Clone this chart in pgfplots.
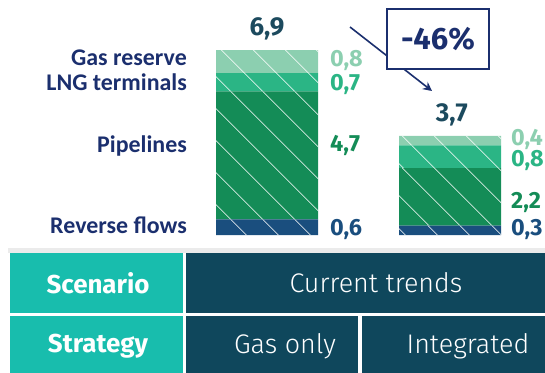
\documentclass[border=0pt]{standalone}
\usepackage{pgfplots}
\pgfplotsset{compat=1.18}
\usetikzlibrary{patterns.meta,arrows.meta}
\usepackage{fontspec}
\setmainfont{Fira Sans}
\newfontfamily\lab{Carlito}
\newfontfamily\light{Fira Sans}[UprightFont=* Light]
\definecolor{cgas}{HTML}{8CCFB0}
\definecolor{clng}{HTML}{2BB585}
\definecolor{cpipe}{HTML}{148C57}
\definecolor{crev}{HTML}{1A4E7E}
\definecolor{ctot}{HTML}{1C4A5E}
\definecolor{cnavy}{HTML}{1B2F6E}
\definecolor{tteal}{HTML}{18BDAD}
\definecolor{tnavy}{HTML}{0F475C}
\tikzset{hatch/.style={draw=none,fill=#1,postaction={pattern={Lines[angle=-45,distance=22.6bp,line width=0.7pt]},pattern color=white}},
  llab/.style={cnavy,anchor=base east,inner sep=0pt,overlay,font=\lab\fontsize{24}{26}\selectfont\bfseries},
  vlab/.style={anchor=base west,inner sep=0pt,overlay,font=\fontsize{23.5}{26}\selectfont\bfseries}}
\begin{document}
\begin{tikzpicture}[x=1bp,y=1bp]
\useasboundingbox (0,0) rectangle (545,372);
\clip (0,0) rectangle (545,372);
% table
\fill[black!8] (8,119) rectangle (550,124);
\fill[tteal] (10,59) rectangle (183,119);
\fill[tnavy] (186,59) rectangle (550,119);
\fill[tteal] (10,-5) rectangle (183,56);
\fill[tnavy] (186,-5) rectangle (358,56);
\fill[tnavy] (362,-5) rectangle (550,56);
\node[white,font=\fontsize{26}{28}\selectfont\bfseries] at (98,89) {Scenario};
\node[white,font=\fontsize{26}{28}\selectfont\bfseries] at (98,26) {Strategy};
\node[white,font=\light\fontsize{27}{29}\selectfont] at (376,89) {Current trends};
\node[white,font=\light\fontsize{27}{29}\selectfont] at (285,26) {Gas only};
\node[white,font=\light\fontsize{27}{29}\selectfont] at (468,26) {Integrated};
\begin{axis}[at={(267bp,137bp)},anchor=origin,scale only axis,width=183bp,height=201bp,
  xmin=0,xmax=1,ymin=0,ymax=7.5,hide axis,clip=false,
  ybar stacked,bar width=102bp]
\addplot[hatch=crev] coordinates {(0,0.58) (1,0.35)};
\addplot[hatch=cpipe] coordinates {(0,4.78) (1,2.15)};
\addplot[hatch=clng] coordinates {(0,0.68) (1,0.84)};
\addplot[hatch=cgas] coordinates {(0,0.86) (1,0.36)};
\node[llab] at (axis cs:-0.437,6.34) {Gas reserve};
\node[llab] at (axis cs:-0.437,5.41) {LNG terminals};
\node[llab] at (axis cs:-0.437,3.06) {Pipelines};
\node[llab] at (axis cs:-0.437,0.07) {Reverse flows};
\node[vlab,cgas] at (axis cs:0.344,6.30) {0,8};
\node[vlab,clng] at (axis cs:0.344,5.41) {0,7};
\node[vlab,cpipe] at (axis cs:0.344,3.10) {4,7};
\node[vlab,crev] at (axis cs:0.344,0.0) {0,6};
\node[vlab,cgas] at (axis cs:1.333,3.34) {0,4};
\node[vlab,clng] at (axis cs:1.333,2.54) {0,8};
\node[vlab,cpipe] at (axis cs:1.333,1.0) {2,2};
\node[vlab,crev] at (axis cs:1.333,0.0) {0,3};
\node[ctot,anchor=base,inner sep=0pt,overlay,font=\fontsize{26}{28}\selectfont\bfseries] at (axis cs:0,7.43) {6,9};
\node[ctot,anchor=base,inner sep=0pt,overlay,font=\fontsize{26}{28}\selectfont\bfseries] at (axis cs:1.01,4.22) {3,7};
\end{axis}
% arrow and box
\draw[cnavy,line width=1.6bp,-{Stealth[length=9bp,width=9bp]}] (350,345) -- (432,281);
\node[draw=cnavy,line width=1.5bp,fill=white,minimum width=102bp,minimum height=60bp,inner sep=0pt,
  text=cnavy,font=\fontsize{31}{33}\selectfont\bfseries] at (438,333) {-46\%};
\end{tikzpicture}
\end{document}
